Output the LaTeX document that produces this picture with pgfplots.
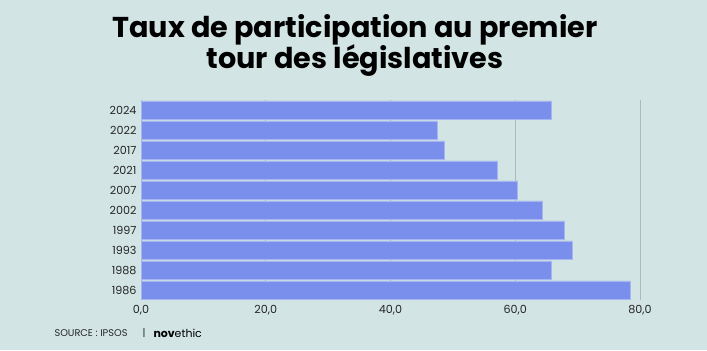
\documentclass[border=0pt]{standalone}
\usepackage{pgfplots}
\pgfplotsset{compat=1.18}
\usepackage{fontspec}
\setmainfont{Poppins}
\definecolor{bg}{HTML}{D2E4E4}
\definecolor{barc}{HTML}{7A8FEC}
\definecolor{baredge}{HTML}{A7B5F0}
\definecolor{gridc}{HTML}{A9BCB7}
\begin{document}
\begin{tikzpicture}[x=1bp,y=1bp]
\fill[bg] (0,0) rectangle (707,350);
\node[font=\bfseries\fontsize{28.8}{31}\selectfont, anchor=base, text=black] at (355,313) {Taux de participation au premier};
\node[font=\bfseries\fontsize{28.8}{31}\selectfont, anchor=base, text=black] at (355,282) {tour des législatives};
\begin{axis}[
  at={(141bp,50bp)}, anchor=south west,
  scale only axis, width=499bp, height=200bp,
  xmin=0, xmax=80, ymin=-0.5, ymax=9.5,
  xbar, bar width=18.3bp,
  axis line style={draw=none},
  major tick length=0pt,
  xtick={0,20,40,60,80},
  ytick={0,...,9},
  yticklabels={1986,1988,1993,1997,2002,2007,2021,2017,2022,2024},
  xmajorgrids, grid style={gridc, line width=1pt},
  /pgf/number format/.cd, fixed, fixed zerofill, precision=1, use comma, assume math mode=true,
  /pgfplots/.cd,
  ticklabel style={font=\fontsize{11.2}{12}\selectfont, text=black!85},
  xticklabel style={yshift=-2bp},
  yticklabel style={xshift=-1bp},
]
\addplot[fill=barc, draw=baredge, line width=0.6pt] coordinates {
 (78.4,0) (65.7,1) (69.2,2) (67.9,3) (64.4,4) (60.4,5) (57.2,6) (48.7,7) (47.5,8) (65.8,9)
};
\end{axis}
\node[anchor=west, font=\fontsize{9.8}{10}\selectfont, text=black!85] at (51,16.5) {SOURCE : IPSOS};
\node[anchor=west, font=\fontsize{10}{10}\selectfont, text=black!85] at (139,17) {|};
\node[anchor=west, font=\fontsize{11}{11}\selectfont, text=black] at (150,16.5) {\textbf{nov}ethic};
\end{tikzpicture}
\end{document}
